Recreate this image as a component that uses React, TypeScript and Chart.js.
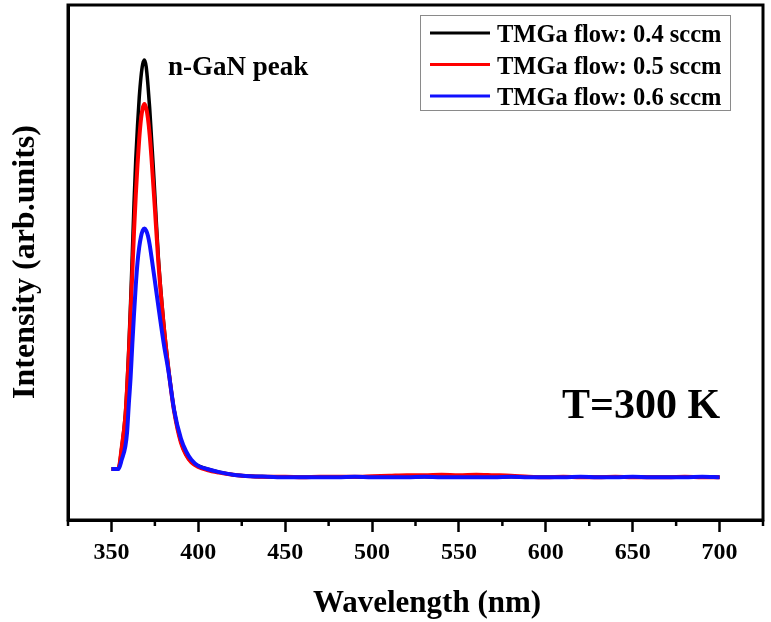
import React, { useEffect, useRef } from "react";
import { Chart, registerables } from "chart.js";

Chart.register(...registerables);

const WAVELENGTH = [
  350, 352, 354, 356, 358, 359, 360, 361, 362, 363, 364, 365, 366, 367, 368, 369, 370, 371, 372, 373, 374, 375,
  377, 380, 383, 386, 390, 393, 396, 400, 405, 412, 420, 430,
  440, 450, 460, 470, 480, 490, 500, 510, 520, 530, 540, 550, 560, 570, 580, 590, 600, 610, 620, 630, 640, 650, 660, 670, 680, 690, 700,
];

const FLOW_04 = [
  0.099, 0.099, 0.1, 0.143, 0.205, 0.262, 0.335, 0.42, 0.515, 0.615, 0.7, 0.765, 0.82, 0.86, 0.885, 0.893, 0.88, 0.845, 0.8, 0.745, 0.69, 0.63,
  0.51, 0.385, 0.29, 0.215, 0.152, 0.127, 0.113, 0.105, 0.099, 0.093, 0.088, 0.085,
  0.084, 0.083, 0.083, 0.083, 0.083, 0.084, 0.083, 0.083, 0.083, 0.084, 0.083, 0.083, 0.083, 0.083, 0.084, 0.083, 0.083, 0.083, 0.084, 0.083, 0.083, 0.084, 0.083, 0.083, 0.083, 0.084, 0.083,
];

const FLOW_05 = [
  0.099, 0.099, 0.1, 0.143, 0.2, 0.255, 0.32, 0.4, 0.48, 0.56, 0.63, 0.69, 0.74, 0.778, 0.8, 0.808, 0.8, 0.78, 0.748, 0.705, 0.655, 0.605,
  0.5, 0.38, 0.288, 0.213, 0.15, 0.126, 0.112, 0.103, 0.097, 0.092, 0.088, 0.085,
  0.084, 0.084, 0.083, 0.084, 0.084, 0.084, 0.085, 0.086, 0.087, 0.087, 0.088, 0.087, 0.088, 0.087, 0.086, 0.084, 0.083, 0.084, 0.083, 0.083, 0.084, 0.083, 0.083, 0.083, 0.084, 0.083, 0.083,
];

const FLOW_06 = [
  0.099, 0.099, 0.099, 0.118, 0.143, 0.17, 0.225, 0.275, 0.34, 0.4, 0.455, 0.5, 0.53, 0.55, 0.562, 0.566, 0.562, 0.552, 0.535, 0.512, 0.488, 0.464,
  0.415, 0.345, 0.285, 0.215, 0.158, 0.133, 0.117, 0.105, 0.099, 0.093, 0.088, 0.085,
  0.084, 0.083, 0.083, 0.083, 0.083, 0.084, 0.083, 0.083, 0.083, 0.084, 0.083, 0.083, 0.083, 0.083, 0.084, 0.083, 0.083, 0.083, 0.084, 0.083, 0.083, 0.084, 0.083, 0.083, 0.083, 0.084, 0.083,
];

const SERIES_LABELS = ["TMGa flow: 0.4 sccm", "TMGa flow: 0.5 sccm", "TMGa flow: 0.6 sccm"];
const SERIES_COLORS = ["#000000", "#ff0000", "#1010ff"];
const SERIES_WIDTHS = [3.5, 4, 4];
const SERIES_ORDER = [3, 2, 1];
const X_MAJOR_TICKS = [350, 400, 450, 500, 550, 600, 650, 700];
const X_MINOR_TICKS = [325, 375, 425, 475, 525, 575, 625, 675, 725];
const X_TITLE = "Wavelength (nm)";
const Y_TITLE = "Intensity (arb.units)";
const PEAK_LABEL = "n-GaN peak";
const TEMP_LABEL = "T=300 K";

const FONT = '"Times New Roman", "Liberation Serif", serif';

const overlayPlugin = {
  id: "overlay",
  afterDraw(chart: any) {
    const { ctx, chartArea } = chart;
    const xs = chart.scales.x;
    ctx.save();
    // frame
    ctx.strokeStyle = "#000";
    ctx.lineWidth = 3;
    ctx.strokeRect(chartArea.left, chartArea.top, chartArea.right - chartArea.left, chartArea.bottom - chartArea.top);
    // minor ticks
    ctx.lineWidth = 2.5;
    for (const v of X_MINOR_TICKS) {
      const px = xs.getPixelForValue(v);
      ctx.beginPath();
      ctx.moveTo(px, chartArea.bottom);
      ctx.lineTo(px, chartArea.bottom + 6);
      ctx.stroke();
    }
    // legend
    const lx = 420, ly = 15, lw = 310, lh = 95;
    ctx.fillStyle = "#fff";
    ctx.fillRect(lx, ly, lw, lh);
    ctx.strokeStyle = "#8a8a8a";
    ctx.lineWidth = 1;
    ctx.strokeRect(lx + 0.5, ly + 0.5, lw, lh);
    ctx.font = `bold 24.5px ${FONT}`;
    ctx.textAlign = "left";
    ctx.textBaseline = "alphabetic";
    chart.data.datasets.forEach((ds: any, i: number) => {
      const cy = 33 + i * 31.5;
      ctx.strokeStyle = ds.borderColor;
      ctx.lineWidth = 3;
      ctx.beginPath();
      ctx.moveTo(430, cy);
      ctx.lineTo(490, cy);
      ctx.stroke();
      ctx.fillStyle = "#000";
      ctx.fillText(ds.label, 497, cy + 9);
    });
    // annotations
    ctx.fillStyle = "#000";
    ctx.font = `bold 27px ${FONT}`;
    ctx.fillText(PEAK_LABEL, 168, 75);
    ctx.font = `bold 42px ${FONT}`;
    ctx.fillText(TEMP_LABEL, 562, 418);
    // axis titles
    ctx.font = `bold 31px ${FONT}`;
    ctx.textAlign = "center";
    ctx.fillText(X_TITLE, 427, 612);
    ctx.save();
    ctx.translate(34, 262);
    ctx.rotate(-Math.PI / 2);
    ctx.font = `bold 32px ${FONT}`;
    ctx.fillText(Y_TITLE, 0, 0);
    ctx.restore();
    ctx.restore();
  },
};

export default function App() {
  const ref = useRef<HTMLCanvasElement | null>(null);
  useEffect(() => {
    document.body.style.margin = "0";
    const seriesValues = [FLOW_04, FLOW_05, FLOW_06];
    const chart = new Chart(ref.current as HTMLCanvasElement, {
      type: "line",
      data: {
        datasets: seriesValues.map((vals, i) => ({
          label: SERIES_LABELS[i],
          data: WAVELENGTH.map((w, j) => ({ x: w, y: vals[j] })),
          borderColor: SERIES_COLORS[i],
          backgroundColor: SERIES_COLORS[i],
          borderWidth: SERIES_WIDTHS[i],
          order: SERIES_ORDER[i],
          pointRadius: 0,
          cubicInterpolationMode: "monotone",
          fill: false,
        })),
      },
      options: {
        animation: false,
        responsive: false,
        devicePixelRatio: 1,
        layout: { padding: { top: 5, right: 8, left: 0, bottom: 0 } },
        plugins: { legend: { display: false }, tooltip: { enabled: false } },
        scales: {
          x: {
            type: "linear",
            min: 325,
            max: 725,
            afterBuildTicks: (s: any) => {
              s.ticks = X_MAJOR_TICKS.map((v) => ({ value: v }));
            },
            afterFit: (s: any) => {
              s.height = 102;
            },
            grid: { display: true, drawOnChartArea: false, drawTicks: true, tickLength: 12, tickWidth: 2.5, tickColor: "#000", color: "#000" },
            border: { display: true, color: "#000", width: 3 },
            ticks: { color: "#000", font: { family: FONT, size: 24, weight: "bold" }, padding: 6, maxRotation: 0, autoSkip: false },
          },
          y: {
            type: "linear",
            min: 0,
            max: 1,
            afterFit: (s: any) => {
              s.width = 68;
            },
            grid: { display: false },
            border: { display: true, color: "#000", width: 3 },
            ticks: { display: false },
          },
        },
      },
      plugins: [overlayPlugin],
    } as any);
    return () => chart.destroy();
  }, []);
  return <canvas ref={ref} width={771} height={622} style={{ display: "block" }} />;
}
